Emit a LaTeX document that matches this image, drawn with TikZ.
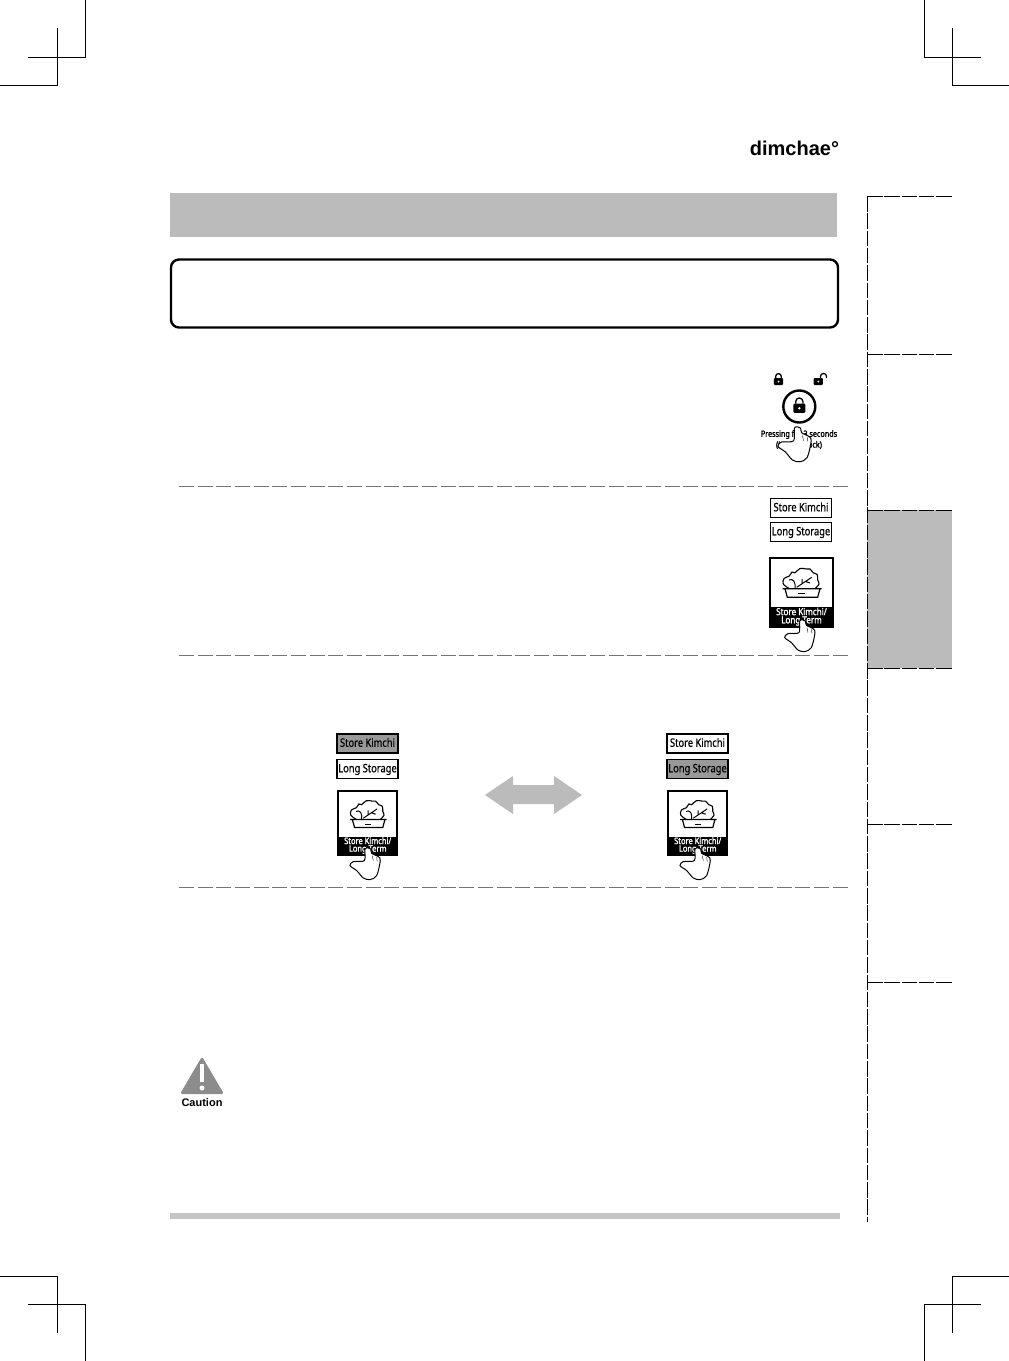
\documentclass[tikz,border=0pt]{standalone}
\usepackage{fontspec}
\setmainfont{Liberation Sans}
\newfontfamily\panelfont[FakeStretch=0.81,FakeBold=0.6]{Noto Sans}
\newfontfamily\panelbold[FakeStretch=0.84,FakeBold=1.8]{Noto Sans}
\usetikzlibrary{arrows,shapes}
\definecolor{bargray}{HTML}{BBBBBB}
\definecolor{pressgray}{HTML}{999999}
\tikzstyle{cropline}=[black,line width=1pt]
\tikzstyle{tabline}=[black,line width=1pt,dash pattern=on 15.5pt off 1.8pt]
\tikzstyle{sepline}=[black!55,line width=.8pt,dash pattern=on 15pt off 3.68pt]
\tikzstyle{smallbutton}=[draw,line width=1.4pt,minimum width=61pt,minimum height=19pt,inner sep=0pt,text height=8.5pt,text depth=2pt,font=\panelfont\fontsize{11.5}{12}\selectfont]
\tikzstyle{paneltext}=[white,inner sep=0pt,font=\panelbold\fontsize{9.6}{10}\selectfont]
\tikzstyle{locktext}=[inner sep=0pt,font=\panelbold\fontsize{8.6}{9}\selectfont]
\tikzset{
  handicon/.pic={
    \draw[fill=white,line width=1pt] plot[smooth cycle,tension=.5] coordinates {(0,0) (-3.3,1) (-4,12.6) (-15,13.6) (-18.3,17.6) (-11.6,22.6) (-5,30) (1.7,31.6) (8.4,27.6) (12,12.6) (10,8.6) (3.4,5.3) (2.4,1)};
    \draw[line width=.4pt] (4,7.7) -- (5,12.7) (8.3,9.3) -- (9,13.3);
  },
  padlock/.pic={
    \fill[rounded corners=1pt] (-4.6,-1) rectangle (4.6,6);
    \draw[line width=1.3pt] (-2.8,-1) -- (-2.8,-2.6) arc[start angle=180,end angle=360,radius=2.8] -- (2.8,-1);
    \fill[white] (0,2.5) circle (1);
  },
  openlock/.pic={
    \fill[rounded corners=1pt] (-4.6,-1) rectangle (4.6,6);
    \draw[line width=1.3pt] (2.2,-1) -- (2.2,-2.6) arc[start angle=180,end angle=360,radius=3] -- (8.2,-1);
    \fill[white] (0,2.5) circle (1);
  },
  kimchipanel/.pic={
    \draw[line width=2pt] (1,1) rectangle (64,70);
    \fill (0,50) rectangle (65,71);
    \node[paneltext] (-upper) at (32.5,54.5) {Store Kimchi/};
    \node[paneltext] (-lower) at (32.5,64) {Long Term};
    \draw[line width=1.1pt] plot[smooth,tension=.6] coordinates {(20.3,31.7) (14.3,27) (15,21.5) (20.3,19) (23,15) (26,15.8) (31,11.5) (37.7,12) (41,12) (44.3,15.8) (48.2,17.5) (48.7,23) (50,27) (46,31.7)};
    \draw[line width=1pt] (20,23) .. controls (24,21) and (27,25) .. (26,31.7);
    \draw[line width=1pt] (27.7,30.3) -- (42.7,20.3) (33,27) -- (33,22) (36.5,24.5) -- (41,26);
    \draw[line width=1.2pt] (13.7,31.7) -- (52.7,31.7) (16,31.7) -- (18.3,40.3) -- (48.7,40.3) -- (51,31.7);
    \draw[line width=1.2pt] (29.3,36.7) -- (36,36.7);
  }
}

\begin{document}
\begin{tikzpicture}[x=1pt,y=-1pt]
    \useasboundingbox (0,0) rectangle (1009,1361);

    % crop marks
    \foreach \dx/\sx in {0/1, 1009/-1}
        \foreach \dy/\sy in {0/1, 1361/-1} {
            \draw[cropline] (\dx,\dy+\sy*85) -- (\dx+\sx*57,\dy+\sy*85) -- (\dx+\sx*57,\dy+\sy*28);
            \draw[cropline] (\dx+\sx*28,\dy+\sy*57) -- (\dx+\sx*85,\dy+\sy*57) -- (\dx+\sx*85,\dy);
        }

    \node[inner sep=0pt,font=\bfseries\fontsize{20}{20}\selectfont] (logo) at (794.5,148) {dimchae°};

    % side tabs
    \fill[bargray] (867,510) rectangle (952,668);
    \draw[tabline] (867.3,196) -- (867.3,1222);
    \foreach \y in {196.3,354.3,510.3,668.3,824.3,982.3}
        \draw[tabline] (867,\y) -- (952,\y);

    \fill[bargray] (170,193) rectangle (837,237);
    \draw[line width=2.4pt,rounded corners=8pt] (171,259.5) rectangle (838,327.5);
    \fill[black!23] (170,1213) rectangle (840,1219);

    \foreach \y in {486,655,887}
        \draw[sepline] (179,\y) -- (848,\y);

    % lock button
    \pic at (778.5,379) {padlock};
    \pic at (818.3,379) {openlock};
    \draw[line width=2.4pt] (799.3,406.5) circle (16);
    \pic[scale=1.3] at (799.3,405) {padlock};
    \node[locktext] (pressing) at (799,434.5) {Pressing for 3 seconds};
    \node[locktext] (lockstate) at (799,445) {(Lock/Unlock)};
    \pic[scale=1.1] at (798,427) {handicon};

    % top right panel
    \node[smallbutton] (store) at (801,508) {Store Kimchi};
    \node[smallbutton] (long) at (801,532) {Long Storage};
    \pic at (769,557) {kimchipanel};
    \pic at (803,620) {handicon};

    % two lower panels
    \foreach \dx/\nameA/\fillA/\fillB in {0/storeA/pressgray/white, 330/storeB/white/pressgray} {
        \node[smallbutton,fill=\fillA] (\nameA) at (367.5+\dx,743.5) {Store Kimchi};
        \node[smallbutton,fill=\fillB] (\nameA long) at (367.5+\dx,769) {Long Storage};
        \pic[scale=.93,transform shape] at (337.5+\dx,790) {kimchipanel};
        \pic at (368.3+\dx,848) {handicon};
    }

    \fill[bargray] (485,795) -- (513,776) -- (513,785) -- (554,785) -- (554,776) -- (582,795) -- (554,814) -- (554,804) -- (513,804) -- (513,814) -- cycle;

    % caution sign
    \fill[black!45,rounded corners=2.5pt] (202,1056.5) -- (224,1094) -- (180,1094) -- cycle;
    \draw[white,line width=3.6pt] (202,1064) -- (202,1082);
    \fill[white] (202,1088) circle (2.5);
    \node[inner sep=0pt,font=\bfseries\fontsize{11}{11}\selectfont] (caution) at (202,1103) {Caution};
\end{tikzpicture}
\end{document}
